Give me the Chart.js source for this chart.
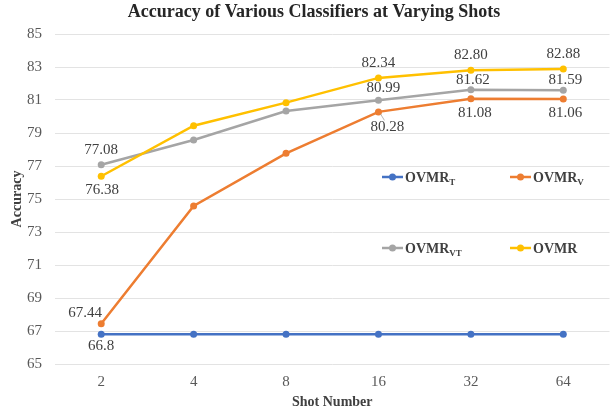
<!DOCTYPE html>
<html>
<head>
<meta charset="utf-8">
<script src="https://cdn.jsdelivr.net/npm/chart.js@4.4.1/dist/chart.umd.min.js"></script>
<style>
  html, body { margin: 0; padding: 0; background: #fff; }
</style>
</head>
<body>
<canvas id="accChart" width="613" height="413"></canvas>
<script>
const shots = ['2', '4', '8', '16', '32', '64']
const ovmrT = [66.8, 66.8, 66.8, 66.8, 66.8, 66.8]
const ovmrV = [67.44, 74.58, 77.77, 80.28, 81.08, 81.06]
const ovmrVT = [77.08, 78.58, 80.33, 80.99, 81.62, 81.59]
const ovmr = [76.38, 79.44, 80.84, 82.34, 82.80, 82.88]

const serif = '"Liberation Serif", "Times New Roman", serif'

// which points carry a value label, and where it sits relative to the point
const labelSpots = [
  { 0: [0, 11.5] },
  { 0: [-16, -11], 3: [9, 15.5, true], 4: [4, 14.5], 5: [2, 14.5] },
  { 0: [0, -15], 3: [5, -12.5], 4: [2, -9.5], 5: [2, -10] },
  { 0: [1, 13.5], 3: [0, -14.5], 4: [0, -15], 5: [0, -14.5] }
]

const legendItems = [
  { text: 'OVMR', sub: 'T', color: '#4472C4', x: 382, y: 177 },
  { text: 'OVMR', sub: 'V', color: '#ED7D31', x: 510, y: 177 },
  { text: 'OVMR', sub: 'VT', color: '#A5A5A5', x: 382, y: 248 },
  { text: 'OVMR', sub: '', color: '#FFC000', x: 510, y: 248 }
]

const extras = {
  id: 'extras',
  afterDatasetsDraw(chart) {
    const ctx = chart.ctx
    ctx.save()
    // value labels
    ctx.font = '15px ' + serif
    ctx.fillStyle = '#404040'
    ctx.textAlign = 'center'
    ctx.textBaseline = 'middle'
    chart.data.datasets.forEach((ds, i) => {
      const meta = chart.getDatasetMeta(i)
      const spots = labelSpots[i]
      Object.keys(spots).forEach(k => {
        const pt = meta.data[k]
        const [dx, dy, lead] = spots[k]
        const v = ds.data[k]
        const txt = ds.digits ? v.toFixed(ds.digits) : String(v)
        if (lead) {
          ctx.strokeStyle = '#a6a6a6'
          ctx.lineWidth = 0.8
          ctx.beginPath()
          ctx.moveTo(pt.x + 2, pt.y + 2)
          ctx.lineTo(pt.x + dx - 3, pt.y + dy - 7)
          ctx.stroke()
        }
        ctx.fillText(txt, pt.x + dx, pt.y + dy)
      })
    })
    // title
    ctx.font = 'bold 18px ' + serif
    ctx.fillStyle = '#262626'
    ctx.fillText('Accuracy of Various Classifiers at Varying Shots', 314, 12)
    // legend
    legendItems.forEach(it => {
      ctx.strokeStyle = it.color
      ctx.fillStyle = it.color
      ctx.lineWidth = 2.5
      ctx.beginPath()
      ctx.moveTo(it.x, it.y)
      ctx.lineTo(it.x + 21, it.y)
      ctx.stroke()
      ctx.beginPath()
      ctx.arc(it.x + 10.5, it.y, 3.5, 0, Math.PI * 2)
      ctx.fill()
      ctx.fillStyle = '#404040'
      ctx.textAlign = 'left'
      ctx.textBaseline = 'alphabetic'
      ctx.font = 'bold 14px ' + serif
      ctx.fillText(it.text, it.x + 23, it.y + 5)
      const w = ctx.measureText(it.text).width
      if (it.sub) {
        ctx.font = 'bold 9px ' + serif
        ctx.fillText(it.sub, it.x + 23 + w, it.y + 8)
      }
    })
    ctx.restore()
  }
}

function series(label, data, color, order, digits) {
  return {
    label: label,
    data: data,
    borderColor: color,
    backgroundColor: color,
    borderWidth: 2.5,
    pointRadius: 3.5,
    pointHoverRadius: 3.5,
    pointBorderWidth: 0,
    tension: 0,
    order: order,
    digits: digits
  }
}

const data = {
  labels: shots,
  datasets: [
    series('OVMR_T', ovmrT, '#4472C4', 4, 0),
    series('OVMR_V', ovmrV, '#ED7D31', 3, 2),
    series('OVMR_VT', ovmrVT, '#A5A5A5', 2, 2),
    series('OVMR', ovmr, '#FFC000', 1, 2)
  ]
}

const config = {
  type: 'line',
  data,
  options: {
    responsive: false,
    animation: false,
    devicePixelRatio: 1,
    layout: { padding: { top: 34, right: 1, left: 0, bottom: 0 } },
    plugins: {
      legend: { display: false },
      tooltip: { enabled: false }
    },
    scales: {
      x: {
        offset: true,
        grid: { display: false, drawTicks: false },
        border: { display: false },
        ticks: { color: '#595959', font: { family: serif, size: 15 }, padding: 9 },
        title: {
          display: true, text: 'Shot Number', color: '#404040',
          font: { family: serif, size: 14, weight: 'bold' },
          padding: { top: 0, bottom: 2 }
        },
        afterFit(scale) { scale.height = 49 }
      },
      y: {
        min: 65,
        max: 85,
        grid: { color: '#e3e3e3', lineWidth: 1, drawTicks: false },
        border: { display: false },
        ticks: { stepSize: 2, color: '#595959', font: { family: serif, size: 15 }, padding: 13 },
        title: {
          display: true, text: 'Accuracy', color: '#404040',
          font: { family: serif, size: 14, weight: 'bold' },
          padding: { top: 9, bottom: 0 }
        },
        afterFit(scale) { scale.width = 55 }
      }
    }
  },
  plugins: [extras]
}

var accChart = new Chart(document.getElementById('accChart'), config)
</script>
</body>
</html>
